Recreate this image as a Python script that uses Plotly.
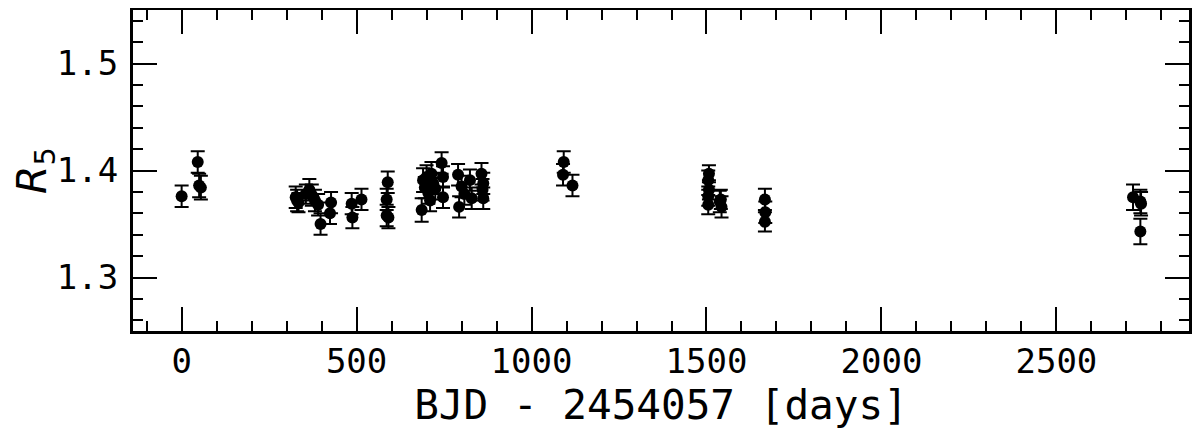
import plotly.graph_objects as go

# BJD - 2454057 [days], R5 index and its uncertainty
bjd = [0, 46, 50, 55,
       326, 330, 334, 355, 365, 372, 381, 390, 397, 424, 427,
       486, 488, 514, 586, 589, 586, 591,
       686, 690, 695, 700, 705, 710, 714, 719, 725, 743, 747, 747,
       790, 793, 800, 808, 824, 829, 857, 860, 862, 862,
       1092, 1090, 1117,
       1507, 1505, 1507, 1505, 1505, 1538, 1543, 1541,
       1667, 1668, 1667,
       2719, 2740, 2742, 2740]
r5 = [1.376, 1.408, 1.386, 1.384,
      1.375, 1.372, 1.370, 1.378, 1.382, 1.377, 1.372, 1.368, 1.350, 1.360, 1.370,
      1.369, 1.356, 1.373, 1.373, 1.389, 1.358, 1.356,
      1.363, 1.391, 1.384, 1.394, 1.379, 1.372, 1.397, 1.388, 1.383, 1.407, 1.394, 1.375,
      1.396, 1.366, 1.385, 1.378, 1.391, 1.374, 1.397, 1.382, 1.388, 1.374,
      1.408, 1.396, 1.386,
      1.397, 1.391, 1.382, 1.376, 1.368, 1.371, 1.366, 1.373,
      1.373, 1.361, 1.352,
      1.375, 1.371, 1.369, 1.343]
r5_err = [0.010, 0.010, 0.011, 0.011,
          0.010, 0.010, 0.009, 0.009, 0.010, 0.010, 0.010, 0.010, 0.010, 0.010, 0.010,
          0.010, 0.010, 0.010, 0.010, 0.010, 0.010, 0.010,
          0.011, 0.011, 0.010, 0.011, 0.010, 0.010, 0.011, 0.010, 0.010, 0.010, 0.010, 0.010,
          0.010, 0.010, 0.010, 0.010, 0.010, 0.010, 0.010, 0.010, 0.010, 0.010,
          0.010, 0.010, 0.010,
          0.008, 0.009, 0.009, 0.009, 0.009, 0.010, 0.010, 0.009,
          0.010, 0.010, 0.009,
          0.012, 0.011, 0.011, 0.012]

mono = "DejaVu Sans Mono"

fig = go.Figure()
fig.add_trace(go.Scatter(x=bjd, y=r5, mode='markers',
                         marker=dict(color='black', size=12),
                         error_y=dict(type='data', array=r5_err, color='black',
                                      thickness=2, width=7),
                         showlegend=False))

axis_style = dict(showline=True, linecolor='black', linewidth=3, mirror='allticks',
                  ticks='inside', ticklen=24, tickwidth=2, tickcolor='black',
                  showgrid=False, zeroline=False, automargin=False,
                  tickfont=dict(family=mono, size=34, color='black'))

fig.update_xaxes(range=[-139, 2879], dtick=500, tick0=0,
                 minor=dict(ticks='inside', ticklen=10, tickwidth=2, dtick=100,
                            tickcolor='black', showgrid=False),
                 ticklabelstandoff=-2,
                 title=dict(text='BJD - 2454057 [days]',
                            font=dict(family=mono, size=41, color='black'),
                            standoff=2),
                 **axis_style)
fig.update_yaxes(range=[1.25, 1.55], dtick=0.1, tick0=1.3, tickformat='.1f',
                 minor=dict(ticks='inside', ticklen=10, tickwidth=2, dtick=0.02,
                            tickcolor='black', showgrid=False),
                 ticklabelstandoff=5,
                 title=dict(text='<i>R</i><sub>5</sub>',
                            font=dict(family='DejaVu Sans', size=41, color='black'),
                            standoff=0),
                 **axis_style)

# the page body adds an 8px offset, so the margins absorb it
fig.update_layout(width=1200, height=437,
                  margin=dict(l=125, r=19, t=2, b=114),
                  plot_bgcolor='white', paper_bgcolor='white')

fig.write_html("out.html")
